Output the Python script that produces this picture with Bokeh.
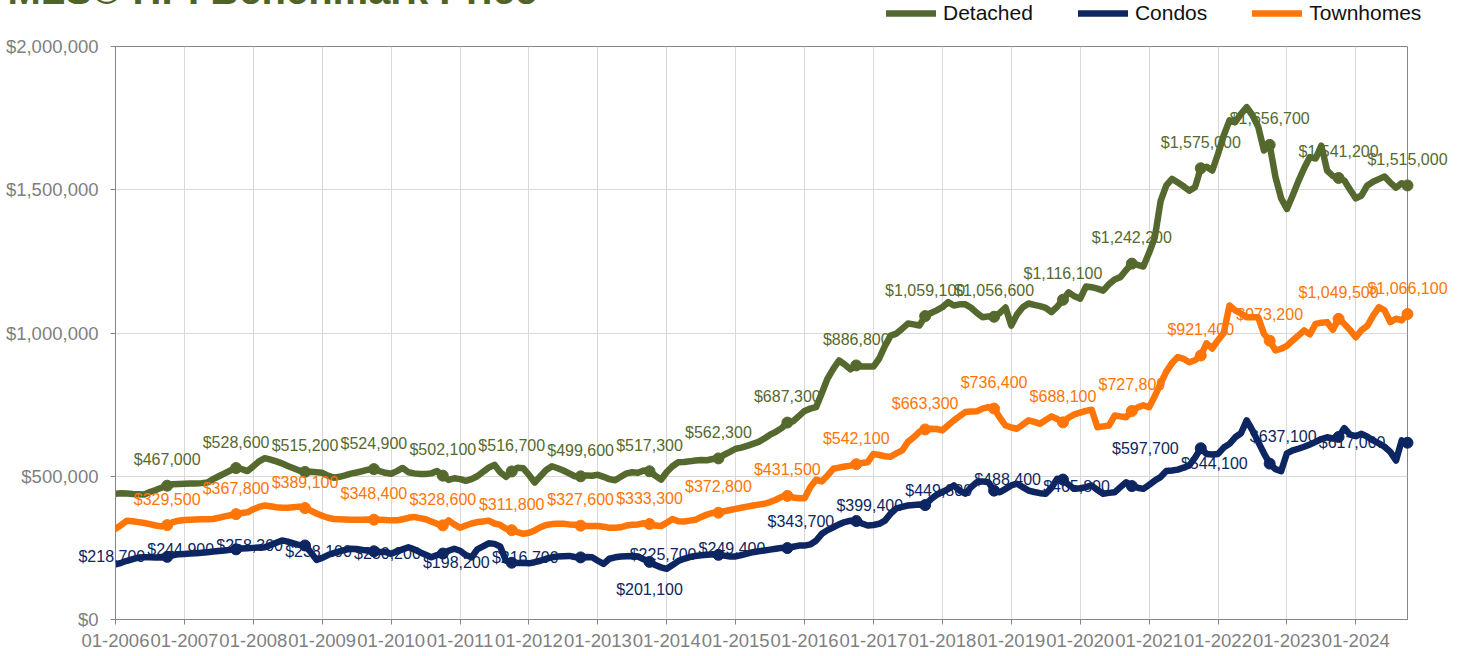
from bokeh.plotting import figure
from bokeh.layouts import column
from bokeh.models import (Range1d, FixedTicker, NumeralTickFormatter, Legend, LegendItem,
                          LabelSet, ColumnDataSource, Label)
from bokeh.core.properties import value
from bokeh.embed import file_html
from bokeh.resources import INLINE

# ---------------- data ----------------
title_text = "MLS® HPI Benchmark Price"
series_names = ["Detached", "Condos", "Townhomes"]
tick_labels = ["01-2006", "01-2007", "01-2008", "01-2009", "01-2010", "01-2011", "01-2012",
               "01-2013", "01-2014", "01-2015", "01-2016", "01-2017", "01-2018", "01-2019",
               "01-2020", "01-2021", "01-2022", "01-2023", "01-2024"]
y_ticks = [0, 500000, 1000000, 1500000, 2000000]

# monthly benchmark prices in thousands of dollars, 01-2006 .. 10-2024
detached_k = [
    439, 441, 440, 438, 437, 436, 445, 452, 460, 467.0, 472, 473,            # 2006
    474, 475, 475, 476, 478, 490, 500, 510, 520, 528.6, 525, 518,            # 2007
    535, 552, 563, 558, 552, 545, 536, 528, 520, 515.2, 516, 514,            # 2008
    512, 502, 495, 498, 503, 509, 513, 518, 523, 524.9, 518, 512,            # 2009
    509, 518, 529, 514, 510, 508, 508, 510, 518, 502.1, 487, 493,            # 2010
    490, 484, 490, 500, 515, 530, 540, 514, 498, 516.7, 530, 528,            # 2011
    505, 478, 500, 522, 535, 528, 520, 510, 500, 499.6, 503, 502,            # 2012
    505, 498, 490, 486, 498, 510, 514, 512, 520, 517.3, 502, 488,            # 2013
    515, 535, 549, 550, 552, 555, 557, 556, 560, 562.3, 575, 585,            # 2014
    596, 600, 606, 613, 620, 632, 645, 655, 668, 687.3, 692, 710,            # 2015
    728, 736, 741, 790, 841, 875, 904, 890, 873, 886.8, 883, 883,            # 2016
    883, 911, 955, 991, 998, 1015, 1033, 1030, 1026, 1059.1, 1070, 1079,     # 2017
    1090, 1108, 1096, 1100, 1100, 1088, 1070, 1055, 1058, 1056.6, 1070, 1089,  # 2018
    1026, 1065, 1090, 1103, 1098, 1094, 1088, 1073, 1092, 1116.1, 1142, 1128,  # 2019
    1120, 1162, 1160, 1155, 1148, 1170, 1187, 1195, 1220, 1242.2, 1238, 1232,  # 2020
    1280, 1334, 1460, 1515, 1538, 1525, 1512, 1497, 1509, 1575.0, 1580, 1567,  # 2021
    1625, 1690, 1742, 1736, 1765, 1788, 1760, 1720, 1637, 1656.7, 1545, 1470,  # 2022
    1433, 1480, 1530, 1575, 1614, 1609, 1654, 1567, 1548, 1541.2, 1532, 1500,  # 2023
    1470, 1480, 1515, 1528, 1537, 1546, 1525, 1507, 1523, 1515.0,              # 2024
]
condos_k = [
    192, 198, 205, 211, 216, 217, 217, 216, 216, 218.7, 224, 228,            # 2006
    229, 230, 231, 233, 235, 237, 239, 241, 243, 244.9, 248, 249,            # 2007
    250, 251, 252, 260, 268, 276, 272, 266, 260, 258.3, 235, 208,            # 2008
    215, 225, 232, 238, 243, 247, 246, 243, 240, 238.1, 236, 236,            # 2009
    229, 238, 245, 252, 245, 235, 226, 217, 225, 230.2, 240, 247,            # 2010
    240, 225, 217, 245, 255, 266, 264, 255, 205, 198.2, 197, 198,            # 2011
    196, 200, 205, 212, 217, 220, 221, 222, 218, 216.7, 218, 217,            # 2012
    205, 194, 212, 217, 220, 221, 222, 220, 210, 201.1, 190, 182,            # 2013
    177, 190, 204, 212, 218, 222, 224, 226, 228, 225.7, 223, 220,            # 2014
    220, 225, 230, 235, 238, 241, 244, 247, 250, 249.4, 254, 258,            # 2015
    258, 262, 275, 299, 312, 322, 332, 340, 345, 343.7, 335, 328,            # 2016
    330, 334, 345, 370, 388, 393, 398, 400, 401, 399.4, 420, 435,            # 2017
    445, 455, 468, 450, 439, 462, 479, 482, 479, 449.8, 444, 456,            # 2018
    468, 474, 462, 450, 445, 441, 439, 460, 491, 488.4, 470, 456,            # 2019
    458, 462, 468, 452, 439, 442, 444, 462, 479, 465.8, 460, 456,            # 2020
    470, 485, 497, 518, 520, 523, 530, 538, 565, 597.7, 578, 576,            # 2021
    578, 600, 613, 636, 650, 695, 660, 620, 580, 544.1, 525, 518,            # 2022
    580, 590, 596, 603, 611, 620, 630, 636, 632, 637.1, 668, 645,            # 2023
    640, 648, 638, 625, 615, 603, 585, 555, 625, 617.0,                      # 2024
]
townhomes_k = [
    317, 330, 345, 343, 340, 337, 333, 328, 325, 329.5, 340, 345,            # 2006
    347, 348, 349, 350, 350, 351, 355, 360, 364, 367.8, 372, 374,            # 2007
    385, 393, 398, 395, 392, 390, 390, 392, 394, 389.1, 380, 370,            # 2008
    362, 355, 351, 350, 349, 348, 348, 348, 349, 348.4, 348, 347,            # 2009
    346, 346, 350, 355, 358, 354, 350, 342, 334, 328.6, 346, 332,            # 2010
    320, 328, 335, 340, 342, 345, 335, 330, 317, 311.8, 305, 299,            # 2011
    303, 311, 322, 330, 333, 334, 334, 332, 331, 327.6, 326, 326,            # 2012
    326, 324, 320, 320, 322, 328, 331, 332, 336, 333.3, 328, 326,            # 2013
    338, 351, 343, 342, 345, 348, 358, 366, 372, 372.8, 378, 382,            # 2014
    386, 390, 394, 398, 401, 404, 410, 418, 428, 431.5, 426, 423,            # 2015
    423, 462, 488, 482, 503, 526, 530, 534, 537, 542.1, 546, 549,            # 2016
    578, 574, 570, 568, 580, 590, 620, 636, 655, 663.3, 666, 665,            # 2017
    660, 678, 695, 710, 724, 726, 727, 736, 741, 736.4, 705, 677,            # 2018
    670, 666, 680, 695, 690, 683, 696, 709, 700, 688.1, 705, 716,            # 2019
    722, 728, 732, 671, 674, 677, 712, 709, 706, 727.8, 740, 748,            # 2020
    741, 780, 823, 865, 895, 916, 910, 898, 905, 921.4, 964, 946,            # 2021
    975, 1000, 1096, 1079, 1068, 1055, 1055, 1055, 997, 973.2, 939, 945,     # 2022
    955, 974, 991, 1009, 995, 1032, 1036, 1038, 1011, 1049.5, 1032, 1010,    # 2023
    985, 1010, 1025, 1060, 1090, 1079, 1038, 1050, 1044, 1066.1,             # 2024
]
# months (index from 01-2006) that carry a marker and a value label
label_months = [9, 21, 33, 45, 57, 69, 81, 93, 105, 117, 129, 141, 153, 165, 177, 189, 201, 213, 225]
condo_labels_below = [93]

# ---------------- styling / layout ----------------
C_DET = "#55692E"
C_CON = "#0D2661"
C_TWN = "#FF7508"
FONT = "Liberation Sans"
AXIS_GREY = "#868686"
TEXT_GREY = "#7F7F7F"
GRID = "#D9D9D9"

W, H = 1455, 688
B_LEFT, B_RIGHT, B_TOP, B_BOTTOM = 115, 48, 78, 37
Y_MAX = 2000000

n = len(detached_k)
xs = list(range(n))
frame_w = W - B_LEFT - B_RIGHT
frame_h = H - B_TOP - B_BOTTOM
ppm = frame_w / (n - 1)          # pixels per month
vpp = Y_MAX / frame_h            # dollars per pixel


def dollars(vals):
    return [round(v * 1000) for v in vals]


det = dollars(detached_k)
con = dollars(condos_k)
twn = dollars(townhomes_k)

# ---- main chart: axes, grid, lines ----
p = figure(width=W, height=H, output_backend="svg", toolbar_location=None,
           x_range=Range1d(0, n - 1), y_range=Range1d(0, Y_MAX),
           min_border_left=B_LEFT, min_border_right=B_RIGHT,
           min_border_top=B_TOP, min_border_bottom=B_BOTTOM,
           background_fill_color="white", border_fill_color="white")
p.frame_align = False
p.outline_line_color = AXIS_GREY
p.outline_line_width = 1

year_ticks = [12 * i for i in range(len(tick_labels))]
p.xaxis.ticker = FixedTicker(ticks=year_ticks)
p.xaxis.major_label_overrides = {t: lbl for t, lbl in zip(year_ticks, tick_labels)}
p.yaxis.ticker = FixedTicker(ticks=y_ticks)
p.yaxis.formatter = NumeralTickFormatter(format="$0,0")
for ax in (p.xaxis[0], p.yaxis[0]):
    ax.axis_line_color = AXIS_GREY
    ax.major_tick_line_color = AXIS_GREY
    ax.major_tick_out = 5
    ax.major_tick_in = 0
    ax.minor_tick_line_color = None
    ax.major_label_text_font = FONT
    ax.major_label_text_font_size = "18.5px"
    ax.major_label_text_color = TEXT_GREY
p.xaxis.major_label_standoff = 9
p.yaxis.major_label_standoff = 12

p.xgrid.ticker = FixedTicker(ticks=year_ticks)
p.ygrid.ticker = FixedTicker(ticks=y_ticks)
p.xgrid.grid_line_color = GRID
p.ygrid.grid_line_color = GRID

for vals, col in ((det, C_DET), (con, C_CON), (twn, C_TWN)):
    p.line(xs, vals, line_color=col, line_width=6.5, line_join="round", line_cap="round")

# ---- transparent overlay with the same scale (texts are not clipped to the frame) ----
o = figure(width=W, height=H, output_backend="svg", toolbar_location=None, title=None,
           x_axis_type=None, y_axis_type=None,
           x_range=Range1d(-B_LEFT / ppm, (W - B_LEFT) / ppm),
           y_range=Range1d(-B_BOTTOM * vpp, Y_MAX + B_TOP * vpp),
           min_border=0, min_border_left=0, min_border_right=0,
           min_border_top=0, min_border_bottom=0)
o.frame_align = False
o.background_fill_alpha = 0
o.border_fill_alpha = 0
o.outline_line_color = None


def fmt(v):
    return "${:,.0f}".format(v)


for vals, col in ((det, C_DET), (con, C_CON), (twn, C_TWN)):
    o.scatter(label_months, [vals[m] for m in label_months], size=11,
              marker="circle", fill_color=col, line_color=col)

for vals, col in ((det, C_DET), (twn, C_TWN)):
    src = ColumnDataSource(dict(x=label_months, y=[vals[m] for m in label_months],
                                t=[fmt(vals[m]) for m in label_months]))
    o.add_layout(LabelSet(x="x", y="y", text="t", source=src, text_align="center",
                          text_baseline="middle", y_offset=26, text_font=value(FONT),
                          text_font_size=value("16px"), text_color=col))

left_m = [m for m in label_months if m not in condo_labels_below]
src_l = ColumnDataSource(dict(x=left_m, y=[con[m] for m in left_m], t=[fmt(con[m]) for m in left_m]))
o.add_layout(LabelSet(x="x", y="y", text="t", source=src_l, text_align="right",
                      text_baseline="middle", x_offset=-22, text_font=value(FONT),
                      text_font_size=value("16px"), text_color=C_CON))
src_b = ColumnDataSource(dict(x=condo_labels_below, y=[con[m] for m in condo_labels_below],
                              t=[fmt(con[m]) for m in condo_labels_below]))
o.add_layout(LabelSet(x="x", y="y", text="t", source=src_b, text_align="center",
                      text_baseline="middle", y_offset=-28, text_font=value(FONT),
                      text_font_size=value("16px"), text_color=C_CON))

# legend (sample glyphs from hidden-point renderers sharing the line styles)
nan = float("nan")
leg_r = [o.line([0, 1], [nan, nan], line_color=c, line_width=6.5, line_cap="round")
         for c in (C_DET, C_CON, C_TWN)]
legend = Legend(items=[LegendItem(label=nm, renderers=[r]) for nm, r in zip(series_names, leg_r)],
                orientation="horizontal", location=(886, H - 57), glyph_width=50, glyph_height=24,
                label_height=24, label_standoff=7, spacing=45, padding=0, margin=0,
                border_line_color=None, background_fill_alpha=0,
                label_text_font=FONT, label_text_font_size="21px", label_text_color="#111111")
o.add_layout(legend)

# title (mostly cut off at the top, as in the original)
o.add_layout(Label(x=7, y=H - 21, x_units="screen", y_units="screen", text=title_text,
                   text_font=FONT, text_font_size="40px", text_font_style="bold",
                   text_color="#4F6228", text_baseline="alphabetic", text_align="left"))

o.margin = (-H, 0, 0, 0)
layout = column(p, o, margin=(-32, 0, 0, 0), spacing=0)

open("out.html", "w").write(file_html(layout, INLINE))
